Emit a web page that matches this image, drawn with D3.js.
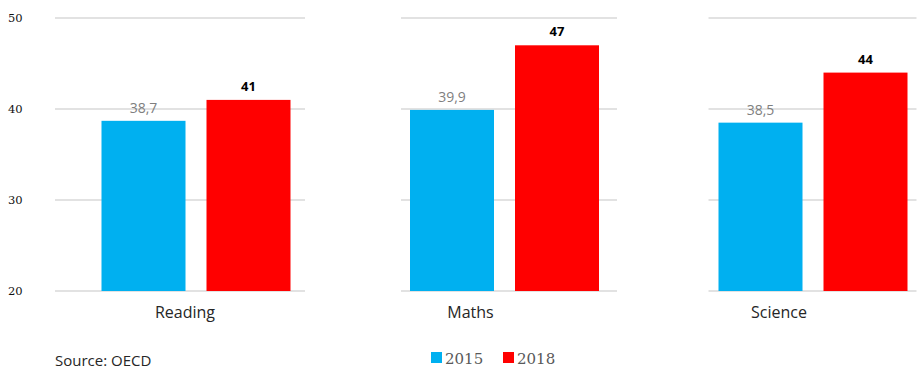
<!DOCTYPE html>
<html><head><meta charset="utf-8">
<script src="https://cdn.jsdelivr.net/npm/d3@7/dist/d3.min.js"></script>
<style>body{margin:0;background:#fff}svg{display:block}</style>
</head><body>
<script>
const categories = ["Reading", "Maths", "Science"];
const years = ["2015", "2018"];
const values2015 = [38.7, 39.9, 38.5];
const values2018 = [41, 47, 44];
const yTicks = [20, 30, 40, 50];

const W = 917, H = 371;
const colors = {"2015": "#00b0f0", "2018": "#ff0000"};
const svg = d3.select("body").append("svg").attr("width", W).attr("height", H);

const x0 = d3.scaleBand().domain(categories).range([41.75, 967.25]);
const x1 = d3.scaleBand().domain(years).range([49.25, 259.25]).paddingInner(0.2).paddingOuter(0.1);
const y = d3.scaleLinear().domain([20, 50]).range([291, 18]);

const gridExt = [[-141, 109], [-103.5, 112.5], [-104.5, 103.5]];
const labelDx = [-11, -34, -34];

const center = c => x0(c) + x0.bandwidth() / 2;

categories.forEach((c, i) => {
  svg.append("g").selectAll("line").data(yTicks).join("line")
    .attr("x1", center(c) + gridExt[i][0]).attr("x2", center(c) + gridExt[i][1])
    .attr("y1", d => y(d)).attr("y2", d => y(d))
    .attr("stroke", "#d9d9d9").attr("stroke-width", 1.6);
});

svg.append("g").selectAll("text").data(yTicks).join("text")
  .attr("x", 8).attr("y", d => y(d) + 4)
  .attr("font-family", "'DejaVu Serif', serif").attr("font-size", 11.5).attr("fill", "#111")
  .text(d => d);

const rows = categories.map((c, i) => ({c, vals: [{k: "2015", v: values2015[i]}, {k: "2018", v: values2018[i]}]}));
const fmt = v => d3.format(".1f")(v).replace(".", ",");

const g = svg.append("g").selectAll("g").data(rows).join("g")
  .attr("transform", d => `translate(${x0(d.c)},0)`);

g.selectAll("rect").data(d => d.vals).join("rect")
  .attr("x", d => x1(d.k)).attr("width", x1.bandwidth())
  .attr("y", d => y(d.v)).attr("height", d => y(20) - y(d.v))
  .attr("fill", d => colors[d.k]);

g.selectAll("text.val").data(d => d.vals).join("text").attr("class", "val")
  .attr("x", d => x1(d.k) + x1.bandwidth() / 2)
  .attr("y", d => d.k === "2015" ? y(d.v) - 8 : y(d.v) - 9)
  .attr("text-anchor", "middle")
  .attr("font-family", "'Open Sans', sans-serif")
  .attr("font-size", d => d.k === "2015" ? 14 : 13)
  .attr("font-weight", d => d.k === "2015" ? "normal" : "bold")
  .attr("fill", d => d.k === "2015" ? "#7f7f7f" : "#000")
  .text(d => d.k === "2015" ? fmt(d.v) : d.v);

svg.append("g").selectAll("text").data(categories).join("text")
  .attr("x", (c, i) => center(c) + labelDx[i]).attr("y", 318)
  .attr("text-anchor", "middle")
  .attr("font-family", "'Open Sans', sans-serif").attr("font-size", 16).attr("fill", "#262626")
  .text(c => c);

svg.append("text").attr("x", 55).attr("y", 366)
  .attr("font-family", "'Open Sans', sans-serif").attr("font-size", 15).attr("fill", "#262626")
  .text("Source: OECD");

const legX = [431, 503];
const leg = svg.append("g").selectAll("g").data(years).join("g")
  .attr("transform", (d, i) => `translate(${legX[i]},352)`);
leg.append("rect").attr("width", 11).attr("height", 11).attr("fill", d => colors[d]);
leg.append("text").attr("x", 14).attr("y", 12)
  .attr("font-family", "'DejaVu Serif', serif").attr("font-size", 15).attr("fill", "#595959")
  .text(d => d);
</script>
</body></html>
